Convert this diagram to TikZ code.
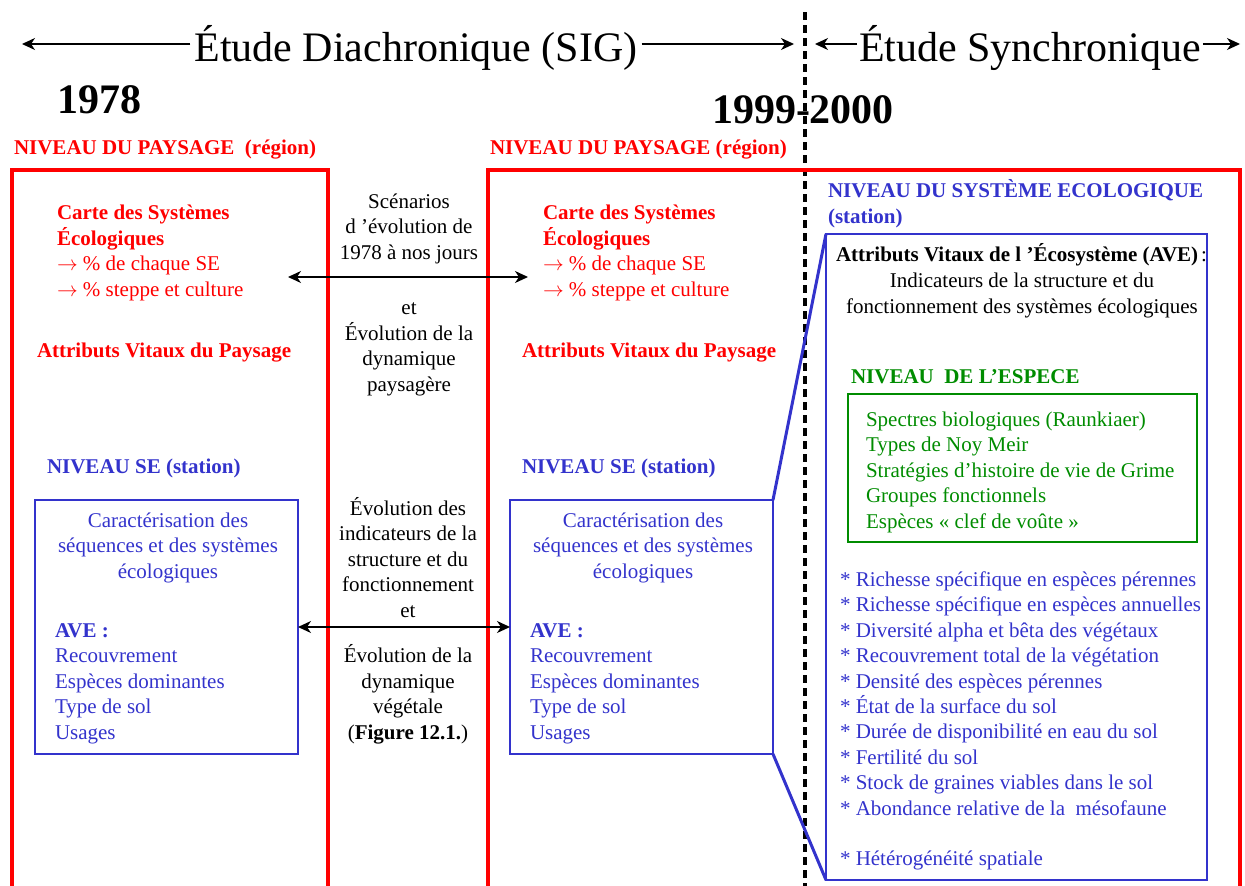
\documentclass[tikz,border=0pt]{standalone}
\usepackage{fontspec}
\setmainfont{Liberation Serif}
\usetikzlibrary{arrows.meta}
\definecolor{rouge}{RGB}{255,0,0}
\definecolor{bleu}{RGB}{51,51,204}
\definecolor{vert}{RGB}{0,140,0}
\newcommand{\fl}{$\rightarrow$}
\begin{document}
% Multi-line nodes are placed by the baseline of their last line.
\begin{tikzpicture}[x=1pt,y=-1pt,
  every node/.style={inner sep=0pt, outer sep=0pt},
  body/.style={font=\fontsize{21}{25.4}\selectfont},
  head/.style={font=\fontsize{21}{25.4}\selectfont\bfseries},
  big/.style={font=\fontsize{42}{46}\selectfont},
  year/.style={font=\fontsize{42}{46}\selectfont\bfseries},
  panel/.style={draw=rouge, line width=4pt},
  sebox/.style={draw=bleu, line width=1.5pt},
  dbl/.style={black, line width=1.3pt, {Stealth[length=13pt,width=12pt,inset=4pt]}-{Stealth[length=13pt,width=12pt,inset=4pt]}},
  tip/.style={black, line width=1.3pt, -{Stealth[length=13pt,width=12pt,inset=4pt]}},
]
\useasboundingbox (0,0) rectangle (1245,886);

% ---- headings ----
\node[big, anchor=base] (diachro) at (416,61) {Étude Diachronique (SIG)};
\draw[tip] ([xshift=-4pt]diachro.west |- 0,44) -- (22,44);
\draw[tip] ([xshift=4pt]diachro.east |- 0,44) -- (794,44);
\node[big, anchor=base] (synchro) at (1030,61) {Étude Synchronique};
\draw[tip] ([xshift=-2pt]synchro.west |- 0,44) -- (815,44);
\draw[tip] ([xshift=2pt]synchro.east |- 0,44) -- (1240,44);
\node[year, anchor=base west] (y1) at (57,113) {1978};
\node[year, anchor=base west] (y2) at (712,123) {1999-2000};

% ---- separation between the two studies ----
\draw[black, line width=4pt, dash pattern=on 8pt off 5pt] (805,12) -- (805,886);

% ---- landscape panels ----
\node[head, text=rouge, anchor=base west] (np1) at (14,154) {NIVEAU DU PAYSAGE\ \ (région)};
\node[head, text=rouge, anchor=base west] (np2) at (490,154) {NIVEAU DU PAYSAGE (région)};
\draw[panel] (12,892) -- (12,170) -- (328,170) -- (328,892);
\draw[panel] (488,892) -- (488,170) -- (1240,170) -- (1240,892);

% ---- left panel (1978) ----
\node[head, text=rouge, anchor=base west, align=left] (carte1) at (57,245) {Carte des Systèmes\\Écologiques};
\node[body, text=rouge, anchor=base west, align=left] (pct1) at (57,296) {\fl{} \% de chaque SE\\\fl{} \% steppe et culture};
\node[head, text=rouge, anchor=base west] (avp1) at (37,357) {Attributs Vitaux du Paysage};
\node[head, text=bleu, anchor=base west] (nse1) at (47,473) {NIVEAU SE (station)};
\node[sebox, anchor=north west, minimum width=263pt, minimum height=254pt] (se1) at (35,500) {};
\node[body, text=bleu, anchor=base, align=center] (car1) at (168,578) {Caractérisation des\\séquences et des systèmes\\écologiques};
\node[head, text=bleu, anchor=base west] (ave1) at (55,637) {AVE :};
\node[body, text=bleu, anchor=base west, align=left] (lst1) at (55,739) {Recouvrement\\Espèces dominantes\\Type de sol\\Usages};

% ---- right panel (1999-2000) ----
\node[head, text=rouge, anchor=base west, align=left] (carte2) at (543,245) {Carte des Systèmes\\Écologiques};
\node[body, text=rouge, anchor=base west, align=left] (pct2) at (543,296) {\fl{} \% de chaque SE\\\fl{} \% steppe et culture};
\node[head, text=rouge, anchor=base west] (avp2) at (522,357) {Attributs Vitaux du Paysage};
\node[head, text=bleu, anchor=base west] (nse2) at (522,473) {NIVEAU SE (station)};
\node[sebox, anchor=north west, minimum width=263pt, minimum height=254pt] (se2) at (510,500) {};
\node[body, text=bleu, anchor=base, align=center] (car2) at (643,578) {Caractérisation des\\séquences et des systèmes\\écologiques};
\node[head, text=bleu, anchor=base west] (ave2) at (530,637) {AVE :};
\node[body, text=bleu, anchor=base west, align=left] (lst2) at (530,739) {Recouvrement\\Espèces dominantes\\Type de sol\\Usages};

% ---- comparisons between dates ----
\node[body, anchor=base, align=center] (scen) at (409,259) {Scénarios\\d ’évolution de\\1978 à nos jours};
\coordinate (sa) at (288,277);
\coordinate (sb) at (528,277);
\draw[dbl] (sa) -- (sb);
\node[body, anchor=base, align=center] (evp) at (409,391) {et\\Évolution de la\\dynamique\\paysagère};
\node[body, anchor=base, align=center] (evi) at (408,617) {Évolution des\\indicateurs de la\\structure et du\\fonctionnement\\et};
\draw[dbl] (se1.east) -- (se2.east -| se2.west);
\node[body, anchor=base, align=center] (evv) at (408,739) {Évolution de la\\dynamique\\végétale\\(\textbf{Figure 12.1.})};

% ---- ecological system level ----
\node[head, text=bleu, anchor=base west, align=left] (nsys) at (828,223) {NIVEAU DU SYSTÈME ECOLOGIQUE\\(station)};
\node[draw=bleu, line width=2pt, anchor=north west, minimum width=381pt, minimum height=646pt] (avebox) at (826,234) {};
\draw[bleu, line width=3pt] (se2.north east) -- (avebox.north west);
\draw[bleu, line width=3pt] (se2.south east) -- (avebox.south west);
\node[head, anchor=base west] (avet) at (836,261) {Attributs Vitaux de l ’Écosystème (AVE)};
\node[body, anchor=base west] (avec) at ([xshift=3pt]avet.base east) {:};
\node[body, anchor=base, align=center] (ind) at (1022,313) {Indicateurs de la structure et du\\fonctionnement des systèmes écologiques};

% ---- species level ----
\node[head, text=vert, anchor=base west] (nesp) at (851,383) {NIVEAU\ \ DE L’ESPECE};
\node[draw=vert, line width=2pt, anchor=north west, minimum width=349pt, minimum height=148pt] (espbox) at (848,394) {};
\node[body, text=vert, anchor=base west, align=left] (esp) at (866,528) {Spectres biologiques (Raunkiaer)\\Types de Noy Meir\\Stratégies d’histoire de vie de Grime\\Groupes fonctionnels\\Espèces « clef de voûte »};

% ---- indicators ----
\node[body, text=bleu, anchor=base west, align=left] (ind2) at (840,815) {* Richesse spécifique en espèces pérennes\\* Richesse spécifique en espèces annuelles\\* Diversité alpha et bêta des végétaux\\* Recouvrement total de la végétation\\* Densité des espèces pérennes\\* État de la surface du sol\\* Durée de disponibilité en eau du sol\\* Fertilité du sol\\* Stock de graines viables dans le sol\\* Abondance relative de la\ \ mésofaune};
\node[body, text=bleu, anchor=base west] (het) at (840,865) {* Hétérogénéité spatiale};
\end{tikzpicture}
\end{document}
